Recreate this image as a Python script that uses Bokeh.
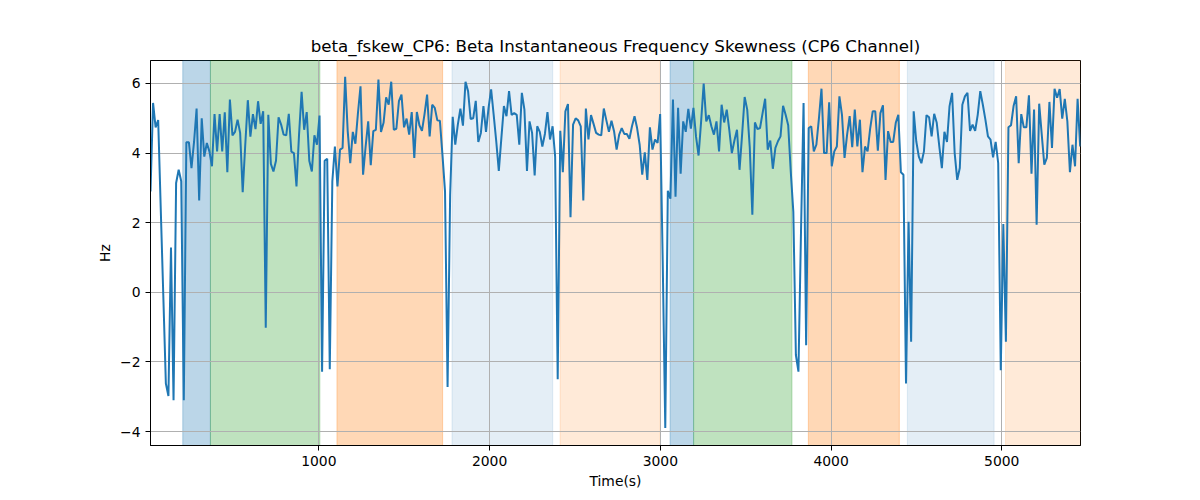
from bokeh.plotting import figure
from bokeh.models import Range1d, BoxAnnotation, FixedTicker
from bokeh.embed import file_html
from bokeh.resources import INLINE
import numpy as np

# ---- data ----
sample_start = 14
sample_step = 15
fskew = [
    2.9, 5.44, 4.74, 4.95, 2.4, -0.1, -2.62, -2.98, 1.29, -3.1,
    3.14, 3.52, 3.19, -3.1, 4.31, 4.31, 3.57, 4.32, 5.28, 2.64,
    5.0, 3.9, 4.29, 4.05, 3.62, 5.12, 4.05, 5.12, 4.05, 5.17,
    3.45, 5.54, 4.51, 4.61, 4.96, 4.58, 2.88, 4.24, 5.52, 4.47,
    5.12, 4.69, 5.49, 4.84, 5.2, -1.02, 5.1, 3.69, 3.47, 3.78,
    5.03, 4.82, 4.53, 4.51, 5.13, 4.04, 4.0, 3.04, 4.53, 5.76,
    4.67, 5.18, 3.78, 3.47, 4.51, 4.24, 5.08, -2.28, 3.78, 3.84,
    -2.21, 3.19, 4.19, 3.04, 4.1, 4.15, 6.19, 4.63, 3.71, 4.61,
    4.27, 5.15, 5.92, 3.38, 4.19, 4.91, 3.65, 4.63, 4.67, 6.11,
    4.61, 4.87, 5.6, 5.39, 6.05, 4.67, 4.7, 5.49, 5.68, 4.74,
    4.99, 4.53, 5.18, 3.86, 5.18, 4.8, 4.64, 5.12, 5.68, 4.48,
    5.39, 5.3, 4.94, 4.93, 3.95, 2.9, -2.72, 2.8, 5.04, 4.24,
    4.82, 5.28, 4.79, 6.05, 5.78, 4.98, 5.0, 5.5, 4.32, 4.58,
    5.35, 4.61, 5.3, 5.83, 5.1, 4.34, 3.49, 4.43, 5.35, 5.06,
    5.78, 5.1, 5.15, 5.1, 4.24, 5.73, 5.25, 3.49, 4.91, 4.58,
    3.36, 4.77, 4.61, 4.19, 4.55, 5.18, 4.39, 4.77, 3.9, -2.5,
    4.64, 3.45, 5.2, 5.41, 2.16, 4.82, 5.0, 4.94, 4.77, 2.64,
    5.28, 4.39, 5.09, 4.84, 4.58, 4.53, 4.51, 5.28, 4.94, 4.61,
    4.93, 4.63, 4.1, 4.53, 4.72, 4.55, 4.55, 4.41, 4.77, 5.06,
    4.72, 4.24, 3.38, 4.02, 3.23, 4.74, 4.1, 4.39, 4.29, 5.12,
    0.9, -3.9, 2.92, 2.69, 5.54, 2.75, 5.3, 3.41, 4.91, 4.61,
    5.27, 4.7, 5.3, 4.48, 3.93, 4.91, 6.0, 4.91, 5.09, 4.77,
    4.53, 4.91, 4.05, 5.39, 4.88, 5.25, 4.67, 4.0, 4.36, 4.67,
    3.52, 4.53, 5.61, 5.25, 4.15, 2.23, 4.88, 4.69, 4.72, 5.15,
    5.56, 4.1, 4.36, 3.55, 4.15, 4.34, 4.48, 5.36, 5.1, 4.8,
    3.47, 2.32, -1.8, -2.28, 1.75, 5.44, -1.52, 4.72, 4.77, 4.05,
    4.24, 5.0, 5.85, 4.0, 4.0, 5.46, 3.62, 4.05, 4.19, 5.63,
    5.1, 3.86, 4.53, 5.06, 4.17, 5.25, 4.19, 4.96, 3.45, 4.19,
    4.05, 4.7, 5.2, 5.2, 4.07, 5.15, 5.37, 3.23, 4.63, 4.32,
    4.32, 4.87, 5.1, 3.45, 3.38, -2.62, 2.03, -1.42, 5.2, 4.34,
    3.9, 3.71, 4.05, 5.09, 5.03, 4.48, 5.13, 4.87, 4.19, 3.57,
    4.61, 4.32, 5.35, 5.73, 4.0, 3.23, 3.57, 5.39, 5.63, 5.73,
    4.64, 4.82, 4.64, 5.1, 5.78, 5.39, 4.96, 4.48, 4.39, 3.88,
    4.32, 3.71, -2.24, 1.96, -1.42, 4.74, 4.8, 5.35, 5.63, 3.71,
    5.12, 4.74, 4.74, 5.66, 3.41, 5.25, 1.94, 5.42, 4.53, 3.67,
    3.86, 5.47, 4.15, 5.85, 5.59, 5.84, 4.99, 5.56, 4.91, 3.45,
    4.24, 3.62, 5.56, 4.19,
]
time_s = sample_start + sample_step * np.arange(len(fskew))

region_starts = [203, 365, 1106, 1780, 2413, 3057, 3195, 3867, 4447, 5022]
region_ends = [365, 1006, 1725, 2370, 2999, 3195, 3771, 4400, 4955, 5600]
region_kinds = ["blue", "green", "orange", "lightblue", "lightorange",
                "blue", "green", "orange", "lightblue", "lightorange"]

x_ticks = [1000, 2000, 3000, 4000, 5000]
y_ticks = [-4, -2, 0, 2, 4, 6]

# ---- styles ----
kind_style = {
    "blue": ("#1f77b4", 0.3),
    "green": ("#2ca02c", 0.3),
    "orange": ("#ff7f0e", 0.3),
    "lightblue": ("#1f77b4", 0.12),
    "lightorange": ("#ff7f0e", 0.16),
}
FONT = "DejaVu Sans"

p = figure(width=1192, height=492, output_backend="svg", toolbar_location=None,
           x_range=Range1d(14, 5461), y_range=Range1d(-4.4, 6.66),
           min_border_left=150, min_border_right=112, min_border_top=60,
           min_border_bottom=47,
           title="beta_fskew_CP6: Beta Instantaneous Frequency Skewness (CP6 Channel)")

p.title.align = "center"
p.title.text_font = FONT
p.title.text_font_size = "16.67px"
p.title.text_font_style = "normal"
p.title.text_color = "black"
p.title.offset = 0

for s, e, k in zip(region_starts, region_ends, region_kinds):
    c, a = kind_style[k]
    p.add_layout(BoxAnnotation(left=s, right=e, fill_color=c, fill_alpha=a,
                               line_color=c, line_alpha=a, line_width=1,
                               level="image"))

p.line(time_s, fskew, line_color="#1f77b4", line_width=2)

p.xaxis.ticker = FixedTicker(ticks=x_ticks)
p.yaxis.ticker = FixedTicker(ticks=y_ticks)
p.xaxis.axis_label = "Time(s)"
p.yaxis.axis_label = "Hz"
for ax in (p.xaxis, p.yaxis):
    ax.axis_label_text_font = FONT
    ax.axis_label_text_font_size = "13.9px"
    ax.axis_label_text_font_style = "normal"
    ax.axis_label_text_color = "black"
    ax.major_label_text_font = FONT
    ax.major_label_text_font_size = "13.9px"
    ax.major_label_text_color = "black"
    ax.axis_line_color = "black"
    ax.major_tick_line_color = "black"
    ax.major_tick_out = 5
    ax.major_tick_in = 0
    ax.minor_tick_line_color = None
p.xaxis.axis_label_standoff = 4
p.yaxis.axis_label_standoff = 4
p.yaxis.major_label_orientation = "horizontal"

p.xgrid.grid_line_color = "#b0b0b0"
p.ygrid.grid_line_color = "#b0b0b0"
p.xgrid.grid_line_width = 1
p.ygrid.grid_line_width = 1
p.outline_line_color = "black"
p.outline_line_alpha = 1
p.outline_line_width = 1
p.background_fill_color = "white"
p.border_fill_color = "white"

open("out.html", "w").write(file_html(p, INLINE))
